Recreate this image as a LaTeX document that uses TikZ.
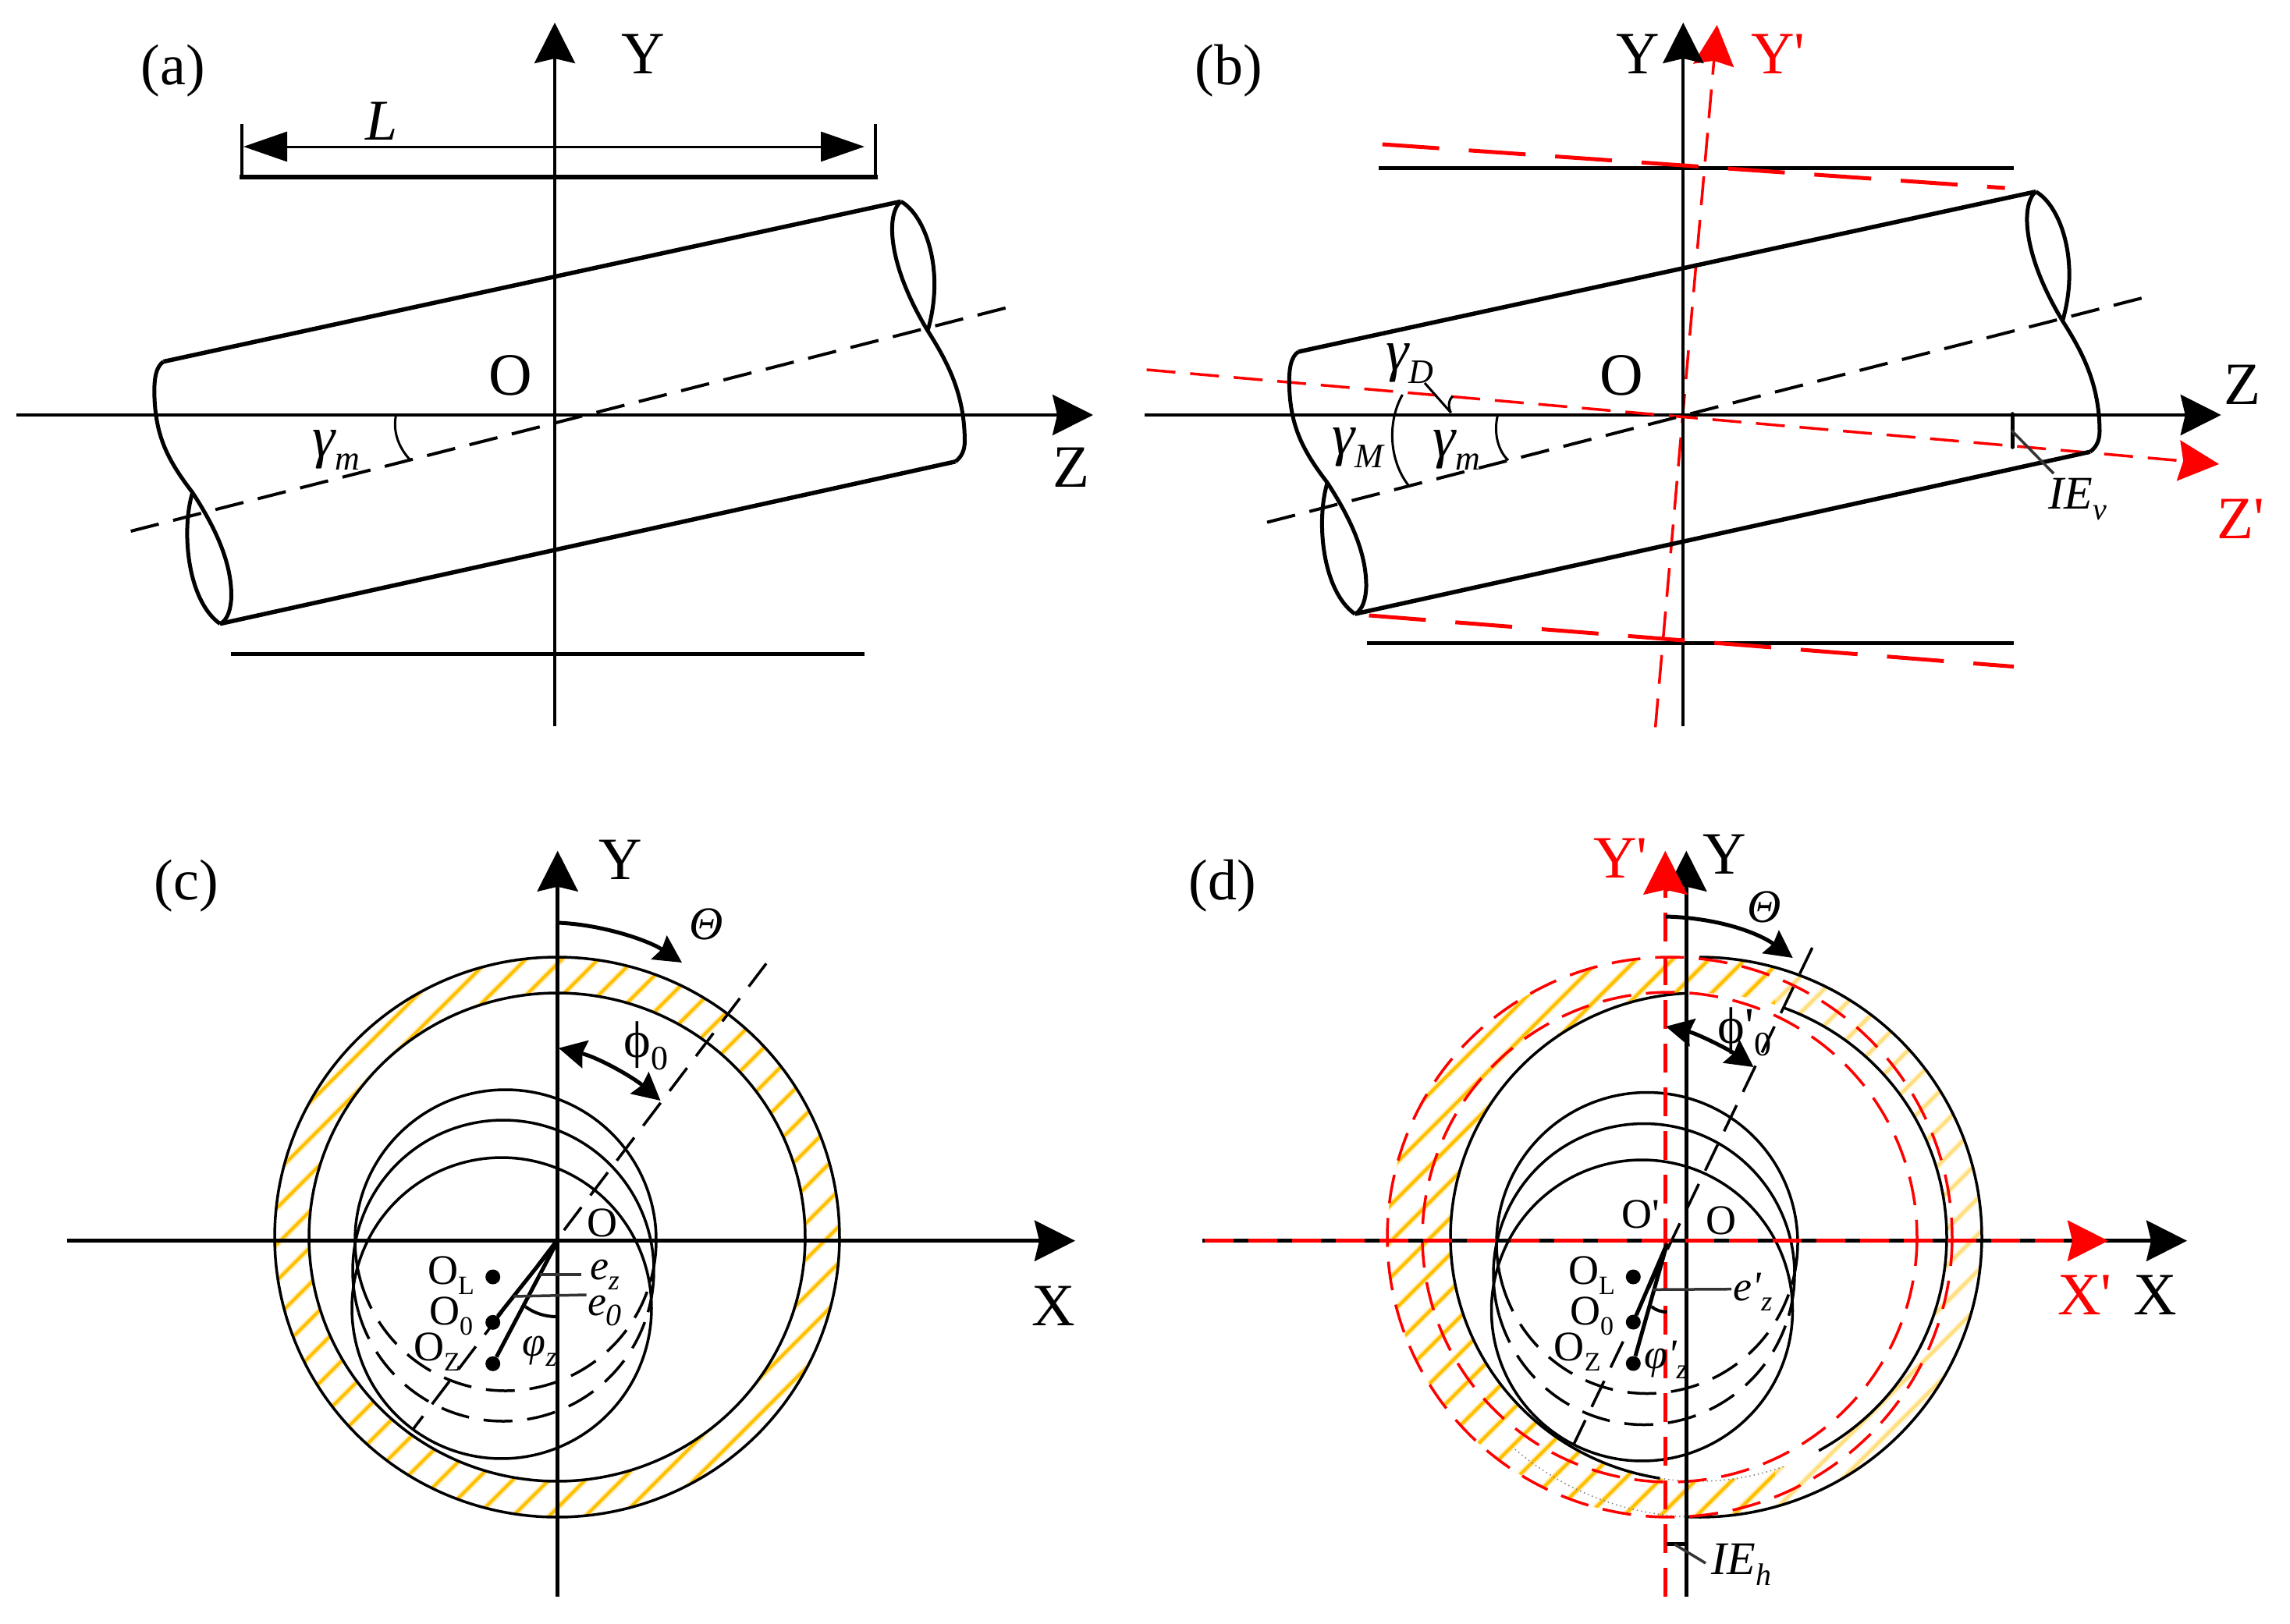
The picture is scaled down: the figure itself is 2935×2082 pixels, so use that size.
\documentclass[tikz,border=0pt]{standalone}
\usepackage{fontspec}
\setmainfont{Liberation Serif}
\newfontfamily\rawfont{Liberation Serif}
\usetikzlibrary{arrows.meta}
\definecolor{gold}{HTML}{FFC000}
\definecolor{goldhalo}{HTML}{FFF0C8}
\definecolor{palegold}{HTML}{FFDF80}
\definecolor{palehalo}{HTML}{FFF6DC}
\definecolor{leader}{HTML}{333333}
\newcommand{\FS}[1]{\fontsize{#1}{#1}\selectfont}
\newcommand{\SB}[2]{\raisebox{-0.24em}{\FS{#1}#2}}
\newcommand{\Tick}{{\rawfont\char39\relax}}
\newcommand{\EArc}[7]{\draw[#1] plot[domain=#6:#7,samples=140,smooth,variable=\t] ({#2+#4*cos(\t)},{#3+#5*sin(\t)});}
\newcommand{\Hatch}[3]{%
  \foreach \i in {0,...,33}{\pgfmathsetmacro\s{#1+46.5*\i}\draw[#3,line width=4.25pt] (300,{\s-300}) -- (2700,{\s-2700});}%
  \foreach \i in {0,...,33}{\pgfmathsetmacro\s{#1+46.5*\i}\draw[#2,line width=2.1pt] (300,{\s-300}) -- (2700,{\s-2700});}%
}
\newcommand{\TubeShape}{%
  \draw[lw=5.5] (209.5,463.6) -- (1154.6,258.3);
  \draw[lw=5.5] (282,799.7) -- (1224.4,591.8);
  \draw[lw=5,line join=round] (209.5,463.6) .. controls (200,470) and (197,485) .. (198,510) .. controls (200,560) and (215,590) .. (246.7,631.4) .. controls (275,675) and (297,720) .. (296.5,765) .. controls (296,780) and (292,795) .. (282,799.7);
  \draw[lw=5] (246.7,631.4) .. controls (232,680) and (240,770) .. (282,799.7);
  \draw[lw=5] (1154.6,258.3) .. controls (1185,275) and (1212,345) .. (1189,424);
  \draw[lw=5,line join=round] (1154.6,258.3) .. controls (1135,275) and (1138,340) .. (1189,424) .. controls (1215,465) and (1236,505) .. (1236.5,565) .. controls (1236.5,578) and (1232,586) .. (1224.4,591.8);
}
\tikzset{
  lw/.style={line width=#1*0.5pt},
  txt/.style={font=\FS{#1},inner sep=0pt,outer sep=0pt},
  redtxt/.style={txt=#1,text=red},
  dashthin/.style={dash pattern=on 18.5pt off 9.5pt},
  dashfat/.style={dash pattern=on 36.5pt off 19pt},
  bigtip/.style={-{Stealth[length=26pt,width=26pt,inset=3pt]}},
  midtip/.style={-{Stealth[length=17.5pt,width=18pt,inset=2pt]}},
  bothtip/.style={{Stealth[length=17.5pt,width=18pt,inset=2pt]}-{Stealth[length=17.5pt,width=18pt,inset=2pt]}},
  dimtip/.style={{Triangle[length=28pt,width=19pt]}-{Triangle[length=28pt,width=19pt]}},
  dotmark/.style={circle,fill=black,inner sep=0pt,minimum size=9.5pt},
}
\begin{document}
\begin{tikzpicture}[x=0.5pt,y=-0.5pt]
\useasboundingbox (0,0) rectangle (2935,2082);
\fill[white] (0,0) rectangle (2935,2082);

%% ---------------- panel (a)
\coordinate (aO) at (711,532);
\coordinate (aYb) at (711,931);
\coordinate (aYt) at (711,29);
\coordinate (aZl) at (20.5,532);
\coordinate (aZr) at (1401,532);
\draw[lw=4,bigtip] (aYb) -- (aYt);
\draw[lw=4,bigtip] (aZl) -- (aZr);
\coordinate (aDl) at (312,188);
\coordinate (aDr) at (1108,188);
\draw[lw=3,dimtip] (aDl) -- (aDr);
\coordinate (aTl) at (310,159);
\coordinate (aTr) at (1122,159);
\coordinate (aBl) at (310,227);
\coordinate (aBr) at (1122,227);
\draw[lw=3.5] (aTl) -- (aBl);
\draw[lw=3.5] (aTr) -- (aBr);
\draw[lw=5.5,line cap=rect] (aBl) -- (aBr);
\TubeShape
\coordinate (aAs) at (167.6,681);
\coordinate (aAe) at (1292,394);
\draw[lw=4,dashthin] (aAs) -- (aAe);
\draw[lw=3] (507.5,532) .. controls (503,555) and (512,575) .. (526,590);
\coordinate (aBarL) at (296,838.6);
\coordinate (aBarR) at (1108,838.6);
\draw[lw=5.5] (aBarL) -- (aBarR);
\node[txt=37] (aLab) at (221.6,91) {(a)};
\node[txt=38.5] (aY) at (824,69) {Y};
\node[txt=38.5] (aZ) at (1373,599.5) {Z};
\node[txt=38.5] (aOl) at (654.6,481.5) {O};
\node[txt=37] (aL) at (489,155) {\itshape L};
\node[txt=37] (aGm) at (431,577) {\itshape γ\SB{22}{m}};

%% ---------------- panel (b)
\coordinate (bO) at (2157.3,532);
\coordinate (bYb) at (2157.3,931);
\coordinate (bYt) at (2157.3,29);
\coordinate (bZl) at (1466.7,532);
\coordinate (bZr) at (2846.7,532);
\coordinate (bYpb) at (2121.6,932.4);
\coordinate (bYpt) at (2200.7,32);
\coordinate (bZpl) at (1469.6,474);
\coordinate (bZpr) at (2844,595);
\draw[lw=3.5,red,dashthin,-{Stealth[length=26pt,width=26pt,inset=3pt,fill=red]}] (bYpb) -- (bYpt);
\draw[lw=4,bigtip] (bYb) -- (bYt);
\draw[lw=4,bigtip] (bZl) -- (bZr);
\draw[lw=3.5,red,dashthin,-{Stealth[length=26pt,width=26pt,inset=3pt,fill=red]}] (bZpl) -- (bZpr);
\coordinate (bTopL) at (1767,215.6);
\coordinate (bTopR) at (2581,215.6);
\coordinate (bBotL) at (1751.7,824.6);
\coordinate (bBotR) at (2581,824.6);
\draw[lw=5.5] (bTopL) -- (bTopR);
\draw[lw=5.5] (bBotL) -- (bBotR);
\begin{scope}[shift={(1454.5,-12.6)}]
\TubeShape
\end{scope}
\coordinate (bAs) at (1624,669.6);
\coordinate (bAe) at (2748,381.4);
\draw[lw=4,dashthin] (bAs) -- (bAe);
\coordinate (bR1) at (1771.7,185);
\coordinate (bR2) at (2569.6,241);
\coordinate (bR3) at (1754.6,789);
\coordinate (bR4) at (2581,854.6);
\draw[lw=5,red,dashfat] (bR1) -- (bR2);
\draw[lw=5,red,dashfat] (bR3) -- (bR4);
\coordinate (bTk1) at (2579,530.7);
\coordinate (bTk2) at (2579,573.3);
\draw[lw=5,line cap=round] (bTk1) -- (bTk2);
\coordinate (bIE1) at (2578,551.7);
\coordinate (bIE2) at (2632,607);
\draw[lw=3.5,leader] (bIE1) -- (bIE2);
\coordinate (bGD1) at (1826,491);
\coordinate (bGD2) at (1859.5,529);
\draw[lw=3] (bGD1) -- (bGD2);
\draw[lw=3] (1862,508) .. controls (1856,513) and (1856,522) .. (1859.5,529);
\draw[lw=3] (1797.5,506) .. controls (1778,540) and (1780,590) .. (1805,622);
\draw[lw=3] (1919.5,532.5) .. controls (1914,555) and (1920,578) .. (1933,590);
\node[txt=37] (bLab) at (1575,91) {(b)};
\node[txt=38.5] (bY) at (2099.7,69) {Y};
\node[redtxt=38.5] (bYp) at (2279,69) {Y\Tick};
\node[txt=38.5] (bZ) at (2874,493) {Z};
\node[redtxt=38.5] (bZp) at (2872,665) {Z\Tick};
\node[txt=38.5] (bOl) at (2078.7,481.5) {O};
\node[txt=37] (bGDl) at (1807,466) {\itshape γ\SB{22}{D}};
\node[txt=37] (bGMl) at (1740,574) {\itshape γ\SB{22}{M}};
\node[txt=37] (bGml) at (1867,577) {\itshape γ\SB{22}{m}};
\node[txt=30] (bIE) at (2663,640) {\itshape IE\SB{20}{v}};

%% ---------------- panel (c)
\begin{scope}
\clip (714,1586) ellipse (362 and 359);
\Hatch{1578}{gold}{goldhalo}
\end{scope}
\fill[white] (714,1586) ellipse (318 and 313);
\EArc{lw=3.5}{714}{1586}{362}{359}{0}{360}
\EArc{lw=3.5}{714}{1586}{318}{313}{0}{360}
\EArc{lw=3.5}{648}{1590}{193}{193}{164}{376}
\EArc{lw=3.5,dashthin}{648}{1590}{193}{193}{164}{16}
\EArc{lw=3.5}{645}{1629}{193}{193}{164}{376}
\EArc{lw=3.5,dashthin}{645}{1629}{193}{193}{164}{16}
\EArc{lw=3.5}{643}{1677}{192}{193}{0}{360}
\coordinate (cAs) at (982,1235.3);
\coordinate (cAe) at (529.6,1832);
\draw[lw=3.5,dashthin] (cAs) -- (cAe);
\coordinate (cO) at (714.7,1590.7);
\coordinate (cYb) at (714.7,2047);
\coordinate (cYt) at (714.7,1090.7);
\coordinate (cXl) at (86,1590.7);
\coordinate (cXr) at (1378,1590.7);
\draw[lw=5,bigtip] (cYb) -- (cYt);
\draw[lw=5,bigtip] (cXl) -- (cXr);
\draw[lw=5,midtip] (714.7,1183) .. controls (770,1185) and (830,1205) .. (874,1234);
\draw[lw=5,bothtip] (716,1343.7) .. controls (765,1355) and (810,1380) .. (846.5,1411);
\node[dotmark] (cOL) at (631.7,1637) {};
\node[dotmark] (cO0) at (631.7,1695.3) {};
\node[dotmark] (cOz) at (631.7,1748.3) {};
\draw[lw=5] (cO) -- (cO0);
\draw[lw=5] (cO) -- (cOz);
\draw[lw=4] (673.3,1675) .. controls (685,1684) and (700,1688) .. (713,1688);
\coordinate (cEz1) at (691.7,1634);
\coordinate (cEz2) at (745,1634);
\coordinate (cE01) at (658,1662);
\coordinate (cE02) at (751.7,1660);
\draw[lw=3.5,leader] (cEz1) -- (cEz2);
\draw[lw=3.5,leader] (cE01) -- (cE02);
\node[txt=37] (cLab) at (239,1136) {(c)};
\node[txt=38.5] (cY) at (795,1102.5) {Y};
\node[txt=38.5] (cX) at (1350,1674) {X};
\node[txt=30] (cTh) at (905.6,1184.7) {\itshape Θ};
\node[txt=33] (cPh) at (828,1341) {ϕ\SB{22}{0}};
\node[txt=27] (cOl) at (771.7,1568) {O};
\node[txt=27] (cOLl) at (578,1635) {O\SB{17}{L}};
\node[txt=27] (cO0l) at (578,1687) {O\SB{17}{0}};
\node[txt=27] (cOzl) at (560,1733) {O\SB{17}{Z}};
\node[txt=27] (cez) at (775,1634) {\itshape e\SB{18}{z}};
\node[txt=27] (ce0) at (775,1680) {\itshape e\SB{20}{0}};
\node[txt=27] (cpz) at (691.7,1732) {\itshape φ\SB{18}{z}};

%% ---------------- panel (d)
\begin{scope}
\clip (1700,1100) rectangle (2275,2000);
\begin{scope}
\clip (2140,1586) ellipse (362 and 359);
\Hatch{3001.5}{gold}{goldhalo}
\end{scope}
\begin{scope}
\clip (2161,1100) rectangle (2275,2000);
\clip (2178,1586) ellipse (362 and 359);
\Hatch{3001.5}{gold}{goldhalo}
\end{scope}
\end{scope}
\begin{scope}
\clip (2275,1100) rectangle (2600,2000);
\clip (2178,1586) ellipse (362 and 359);
\Hatch{3001.5}{palegold}{palehalo}
\end{scope}
\fill[white] (2177,1586) ellipse (318 and 313);
\EArc{lw=3.5}{2178}{1586}{362}{359}{-90}{93}
\EArc{lw=1.5,gray,dotted}{2178}{1586}{362}{359}{93}{131}
\EArc{lw=3.5}{2177}{1586}{318}{313}{-70}{61}
\EArc{lw=3.5}{2177}{1586}{318}{313}{267}{99}
\EArc{lw=1.5,gray,dotted}{2177}{1586}{318}{313}{99}{70}
\EArc{lw=3.5,red,dashthin}{2140}{1586}{362}{359}{0}{360}
\EArc{lw=3.5,red,dashthin}{2140}{1586}{317}{314}{0}{360}
\EArc{lw=3.5}{2111}{1593.5}{193}{193}{164}{376}
\EArc{lw=3.5,dashthin}{2111}{1593.5}{193}{193}{164}{16}
\EArc{lw=3.5}{2107}{1633.5}{193}{193}{164}{376}
\EArc{lw=3.5,dashthin}{2107}{1633.5}{193}{193}{164}{16}
\EArc{lw=3.5}{2104.5}{1680}{193}{193}{0}{360}
\coordinate (dAs) at (2322.7,1215);
\coordinate (dAe) at (2017,1851.6);
\draw[lw=3.5,dashthin] (dAs) -- (dAe);
\coordinate (dO) at (2161.3,1590.7);
\coordinate (dOp) at (2134.3,1590.7);
\coordinate (dYb) at (2161.3,2047);
\coordinate (dYt) at (2161.3,1090.7);
\coordinate (dXl) at (1541,1590.7);
\coordinate (dXr) at (2803,1590.7);
\coordinate (dYpb) at (2134.3,2047);
\coordinate (dYpt) at (2134.3,1090.7);
\coordinate (dXpl) at (1544,1590.7);
\coordinate (dXpr) at (2702,1590.7);
\draw[lw=5,bigtip] (dYb) -- (dYt);
\draw[lw=5,bigtip] (dXl) -- (dXr);
\draw[lw=5,red,dashthin,-{Stealth[length=28pt,width=28pt,inset=3pt,fill=red]}] (dYpb) -- (dYpt);
\draw[lw=5,red,dashthin,-{Stealth[length=26pt,width=26pt,inset=3pt,fill=red]}] (dXpl) -- (dXpr);
\draw[lw=5,midtip] (2135,1175) .. controls (2205,1177) and (2255,1197) .. (2297.7,1228);
\draw[lw=5,bothtip] (2135,1316) .. controls (2175,1325) and (2215,1345) .. (2247.5,1368);
\node[dotmark] (dOL) at (2093.3,1637) {};
\node[dotmark] (dO0) at (2093.3,1695) {};
\node[dotmark] (dOz) at (2093.3,1748) {};
\coordinate (dHub) at (2136.7,1594);
\draw[lw=5] (dHub) -- (dO0);
\draw[lw=5] (dHub) -- (dOz);
\draw[lw=4] (2116.7,1675) .. controls (2122,1680) and (2130,1682) .. (2136.7,1682);
\coordinate (dEz1) at (2118.3,1653.3);
\coordinate (dEz2) at (2219,1652.7);
\draw[lw=3.5,leader] (dEz1) -- (dEz2);
\coordinate (dTk1) at (2135.8,1979.7);
\coordinate (dTk2) at (2160.4,1979.7);
\draw[lw=4.5] (dTk1) -- (dTk2);
\coordinate (dIE1) at (2146,1979.7);
\coordinate (dIE2) at (2186,2004);
\draw[lw=3.5,leader] (dIE1) -- (dIE2);
\node[txt=37] (dLab) at (1567,1136) {(d)};
\node[txt=38.5] (dY) at (2210,1095) {Y};
\node[redtxt=38.5] (dYp) at (2077,1100) {Y\Tick};
\node[txt=38.5] (dX) at (2762,1660) {X};
\node[redtxt=38.5] (dXp) at (2672,1660) {X\Tick};
\node[txt=30] (dTh) at (2260.7,1163) {\itshape Θ};
\node[txt=33] (dPh) at (2236,1323) {ϕ\Tick\SB{22}{0}};
\node[txt=27] (dOl) at (2206,1565) {O};
\node[txt=27] (dOpl) at (2103,1556.7) {O\Tick};
\node[txt=27] (dOLl) at (2040,1635) {O\SB{17}{L}};
\node[txt=27] (dO0l) at (2040,1687) {O\SB{17}{0}};
\node[txt=27] (dOzl) at (2021.7,1733) {O\SB{17}{Z}};
\node[txt=27] (dez) at (2246.7,1656.7) {\itshape e\Tick\SB{18}{z}};
\node[txt=27] (dpz) at (2135,1743) {\itshape φ\Tick\SB{18}{z}};
\node[txt=30] (dIE) at (2232,2006) {\itshape IE\SB{20}{h}};
\end{tikzpicture}
\end{document}
